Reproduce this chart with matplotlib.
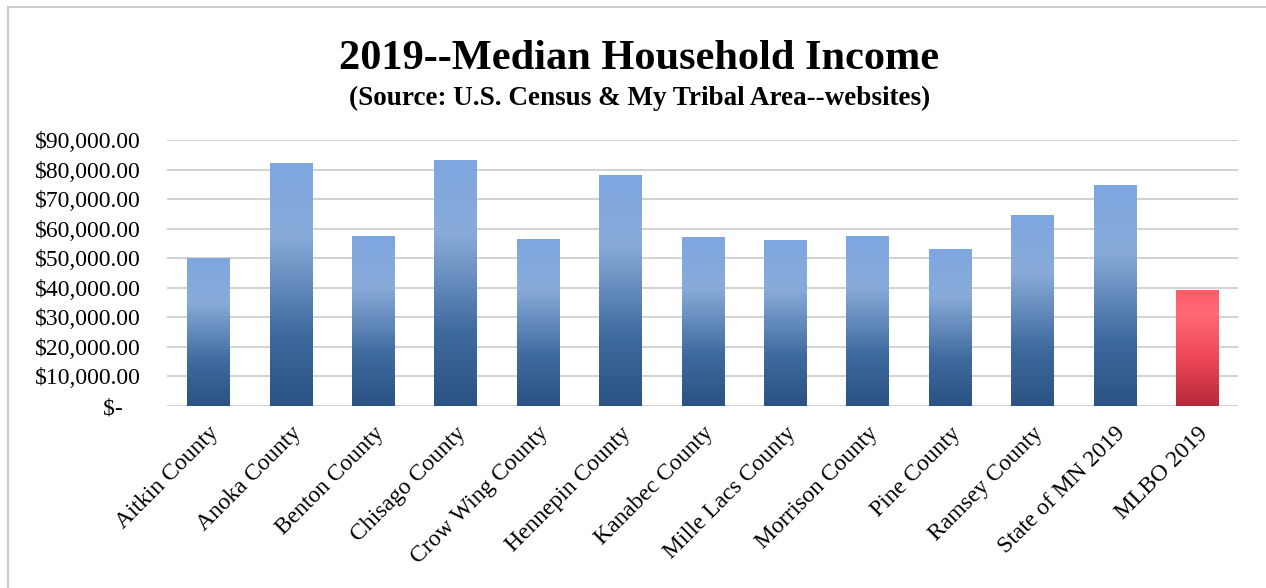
import numpy as np
import matplotlib
matplotlib.use('Agg')
import matplotlib.pyplot as plt
from matplotlib.colors import LinearSegmentedColormap
from matplotlib.patches import Rectangle

# 2019 median household income by area
areas = ['Aitkin County', 'Anoka County', 'Benton County', 'Chisago County',
         'Crow Wing County', 'Hennepin County', 'Kanabec County',
         'Mille Lacs County', 'Morrison County', 'Pine County',
         'Ramsey County', 'State of MN 2019', 'MLBO 2019']
income = [49900, 82000, 57400, 82900, 56300, 77800, 57000,
          56000, 57500, 53000, 64500, 74600, 39000]
highlight = ['MLBO 2019']

y_ticks = [0, 10000, 20000, 30000, 40000, 50000, 60000, 70000, 80000, 90000]

plt.rcParams['font.family'] = ['Liberation Serif', 'DejaVu Serif']

blue_cmap = LinearSegmentedColormap.from_list(
    'bar_blue', [(0.0, '#2a5383'), (0.3, '#3f6a9e'), (0.7, '#88abd9'), (1.0, '#7ea6e0')])
red_cmap = LinearSegmentedColormap.from_list(
    'bar_red', [(0.0, '#b52a3b'), (0.4, '#ee4656'), (0.8, '#ff6a74'), (1.0, '#ff5c68')])

fig = plt.figure(figsize=(12.66, 5.88), dpi=100)
ax = fig.add_axes([0.132, 0.3095, 0.846, 0.4525])

x = np.arange(len(areas))
bars = ax.bar(x, income, width=0.51, color='none', edgecolor='none', zorder=3)

# fill every bar with a vertical gradient
grad = np.linspace(0, 1, 256).reshape(-1, 1)
for name, bar in zip(areas, bars):
    x0 = bar.get_x()
    x1 = x0 + bar.get_width()
    h = bar.get_height()
    cmap = red_cmap if name in highlight else blue_cmap
    ax.imshow(grad, extent=[x0, x1, 0, h], origin='lower', aspect='auto',
              cmap=cmap, zorder=3, interpolation='bilinear')

ax.set_xlim(-0.5, len(areas) - 0.5)
ax.set_ylim(0, 90000)
ax.set_yticks(y_ticks)
# accounting style zero, padded with non-breaking spaces
ax.set_yticklabels(['$-\u00a0\u00a0\u00a0'] + [f'${v:,.2f}' for v in y_ticks[1:]], fontsize=17)
ax.set_xticks(x)
ax.set_xticklabels(areas, rotation=45, ha='right', rotation_mode='anchor', fontsize=17)
ax.tick_params(axis='y', length=0, pad=19)
ax.tick_params(axis='x', length=0, pad=12)
ax.grid(axis='y', color='#cfcfcf', linewidth=1.3, zorder=0)
ax.set_axisbelow(True)
for s in ax.spines.values():
    s.set_visible(False)

fig.text(0.505, 0.9, '2019--Median Household Income', ha='center', va='center',
         fontsize=30.5, fontweight='bold')
fig.text(0.505, 0.832, '(Source: U.S. Census & My Tribal Area--websites)', ha='center',
         va='center', fontsize=19.5, fontweight='bold')

# chart border
fig.add_artist(Rectangle((8 / 1266, -0.1), 1.2, 0.1 + 1 - 7 / 588, transform=fig.transFigure,
                         fill=False, edgecolor='#cccccc', linewidth=1.5))

fig.savefig('out.png', dpi=100)
